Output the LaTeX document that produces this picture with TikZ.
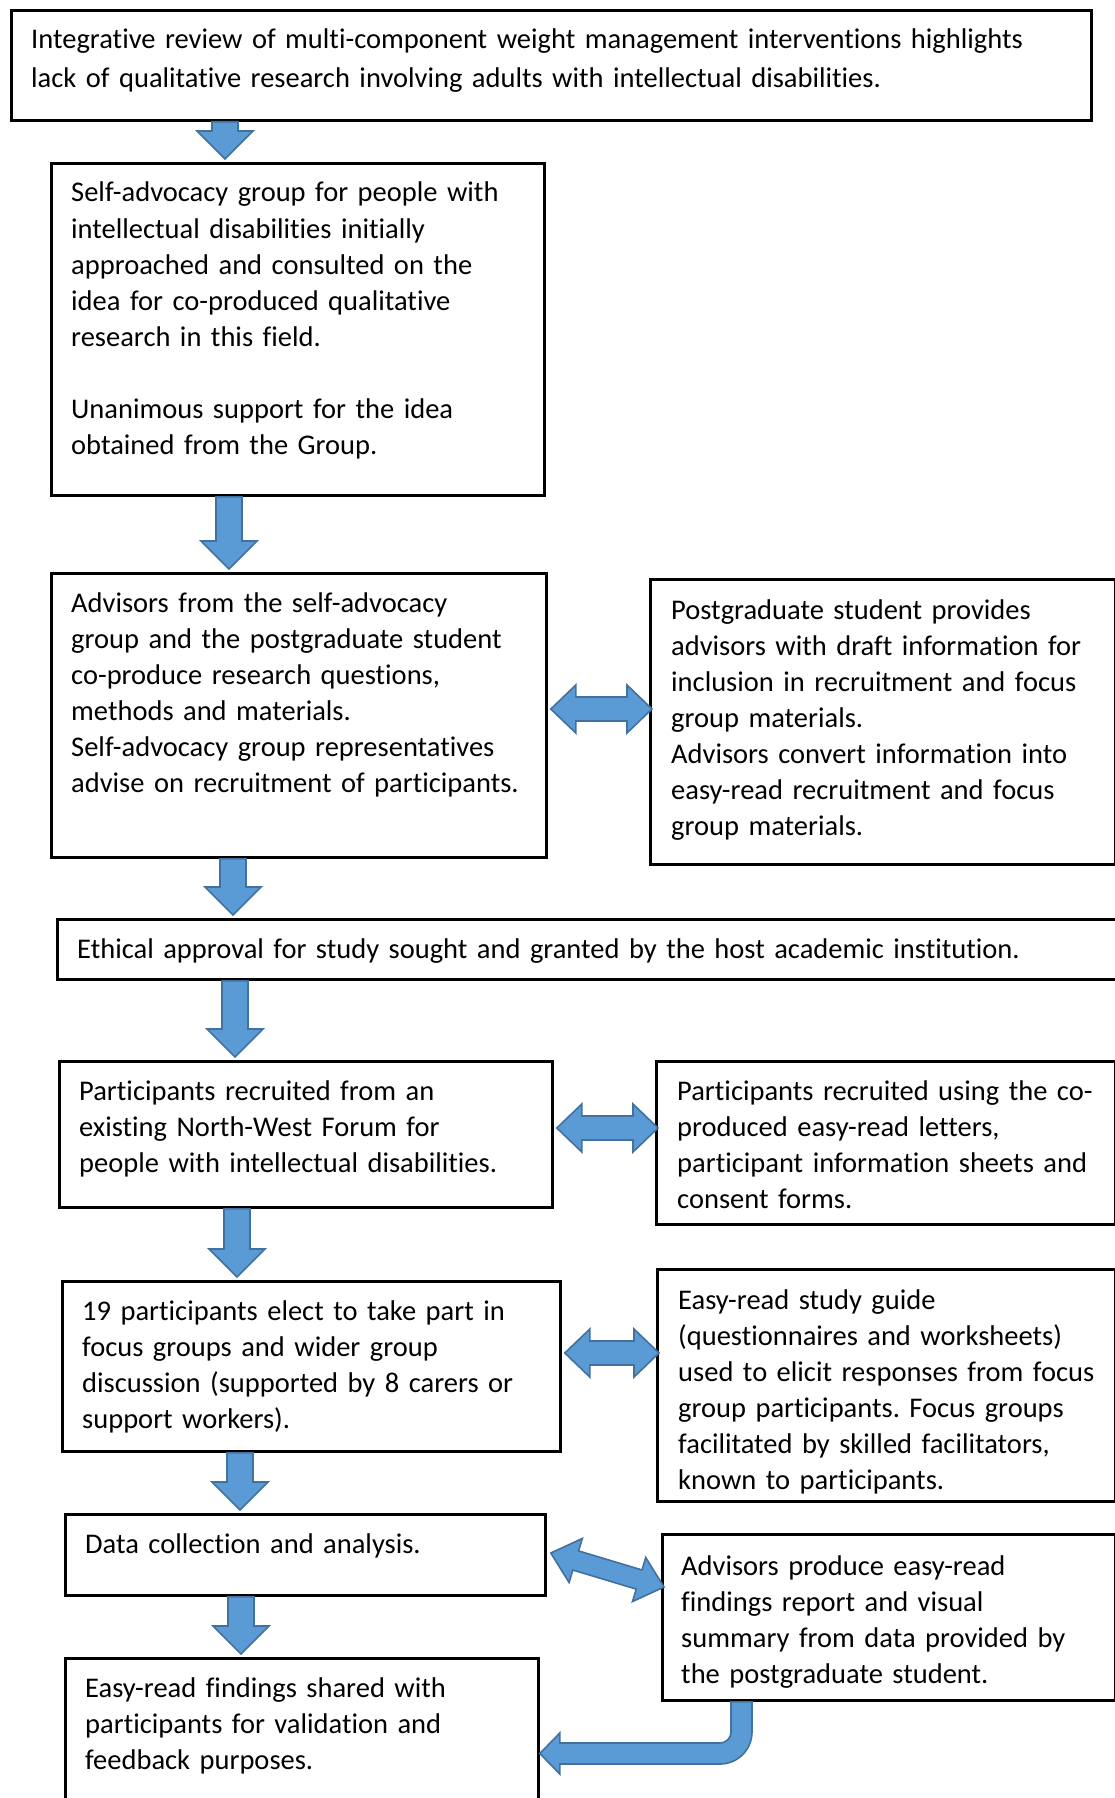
\documentclass[tikz,border=0pt]{standalone}
\usepackage{fontspec}
\setmainfont{Carlito}[Ligatures=NoCommon]
\usetikzlibrary{calc}
\definecolor{arrfill}{HTML}{5B9BD5}
\definecolor{arredge}{HTML}{41719C}
\frenchspacing

\tikzset{
  box/.style={draw=black, line width=2.8pt, inner sep=0pt, anchor=north west, fill=white},
  txt/.style={anchor=base west, inner sep=0pt, align=left, text width=1060pt,
              font=\fontsize{28.5}{36}\selectfont},
  blk/.style={fill=arrfill, draw=arredge, line width=1.6pt, line join=miter},
}

% block arrow pointing down, centred at x = #1, from node #2 to node #3
\newcommand\flowdown[3]{%
  \draw[blk] let \p1=(#2.south), \p2=(#3.north) in
    ({#1pt-13pt},\y1) -- ({#1pt+13pt},\y1) -- ({#1pt+13pt},\y2+31pt)
    -- ({#1pt+28pt},\y2+31pt) -- (#1pt,\y2+3pt) -- ({#1pt-28pt},\y2+31pt)
    -- ({#1pt-13pt},\y2+31pt) -- cycle;}

% horizontal two-headed block arrow at height #1 between nodes #2 and #3
\newcommand\flowboth[3]{%
  \draw[blk] let \p1=(#2.east), \p2=(#3.west) in
    (\x1+3pt,#1pt) -- (\x1+28pt,{#1pt+24pt}) -- (\x1+28pt,{#1pt+12pt})
    -- (\x2-22pt,{#1pt+12pt}) -- (\x2-22pt,{#1pt+24pt}) -- (\x2+3pt,#1pt)
    -- (\x2-22pt,{#1pt-24pt}) -- (\x2-22pt,{#1pt-12pt})
    -- (\x1+28pt,{#1pt-12pt}) -- (\x1+28pt,{#1pt-24pt}) -- cycle;}

\begin{document}
\begin{tikzpicture}[x=1pt, y=1pt]
\useasboundingbox (0,0) rectangle (1115,-1798);
\clip (0,0) rectangle (1115,-1798);

% boxes of the flow
\node[box, minimum width=1080pt, minimum height=110pt] (b1) at (10,-9) {};
\node[box, minimum width=493pt, minimum height=332pt] (b2) at (50,-162) {};
\node[box, minimum width=495pt, minimum height=284pt] (b3) at (50,-572) {};
\node[box, minimum width=465pt, minimum height=285pt] (r3) at (649,-578) {};
\node[box, minimum width=1074pt, minimum height=60pt] (b4) at (56,-918) {};
\node[box, minimum width=493pt, minimum height=146pt] (b5) at (58,-1060) {};
\node[box, minimum width=459pt, minimum height=163pt] (r5) at (655,-1060) {};
\node[box, minimum width=498pt, minimum height=170pt] (b6) at (61,-1280) {};
\node[box, minimum width=458pt, minimum height=232pt] (r6) at (656,-1268) {};
\node[box, minimum width=480pt, minimum height=81pt] (b7) at (64,-1513) {};
\node[box, minimum width=453pt, minimum height=166pt] (r7) at (661,-1533) {};
\node[box, minimum width=473pt, minimum height=153pt] (b8) at (64,-1657) {};

% texts
\node[txt, font=\fontsize{28.5}{39}\selectfont] (t1) at ($(b1.north west)+(21,-40)$)
  {Integrative review of multi-component weight management interventions highlights\\
   lack of qualitative research involving adults with intellectual disabilities.};
\node[txt] (t2) at ($(b2.north west)+(21,-40)$)
  {Self-advocacy group for people with\\ intellectual disabilities initially\\
   approached and consulted on the\\ idea for co-produced qualitative\\
   research in this field.\\[36pt] Unanimous support for the idea\\ obtained from the Group.};
\node[txt] (t3) at ($(b3.north west)+(21,-40)$)
  {Advisors from the self-advocacy\\ group and the postgraduate student\\
   co-produce research questions,\\ methods and materials.\\
   Self-advocacy group representatives\\ advise on recruitment of participants.};
\node[txt] (u3) at ($(r3.north west)+(22,-41)$)
  {Postgraduate student provides\\ advisors with draft information for\\
   inclusion in recruitment and focus\\ group materials.\\
   Advisors convert information into\\ easy-read recruitment and focus\\ group materials.};
\node[txt] (t4) at ($(b4.north west)+(21,-40)$)
  {Ethical approval for study sought and granted by the host academic institution.};
\node[txt] (t5) at ($(b5.north west)+(21,-40)$)
  {Participants recruited from an\\ existing North-West Forum for\\
   people with intellectual disabilities.};
\node[txt] (u5) at ($(r5.north west)+(22,-40)$)
  {Participants recruited using the co-\\ produced easy-read letters,\\
   participant information sheets and\\ consent forms.};
\node[txt] (t6) at ($(b6.north west)+(21,-40)$)
  {19 participants elect to take part in\\ focus groups and wider group\\
   discussion (supported by 8 carers or\\ support workers).};
\node[txt] (u6) at ($(r6.north west)+(22,-41)$)
  {Easy-read study guide\\ (questionnaires and worksheets)\\
   used to elicit responses from focus\\ group participants. Focus groups\\
   facilitated by skilled facilitators,\\ known to participants.};
\node[txt] (t7) at ($(b7.north west)+(21,-40)$)
  {Data collection and analysis.};
\node[txt] (u7) at ($(r7.north west)+(20,-42)$)
  {Advisors produce easy-read\\ findings report and visual\\
   summary from data provided by\\ the postgraduate student.};
\node[txt] (t8) at ($(b8.north west)+(21,-40)$)
  {Easy-read findings shared with\\ participants for validation and\\ feedback purposes.};

% downward arrows
\flowdown{225}{b1}{b2}
\flowdown{229}{b2}{b3}
\flowdown{233}{b3}{b4}
\flowdown{235}{b4}{b5}
\flowdown{237}{b5}{b6}
\flowdown{240}{b6}{b7}
\flowdown{241}{b7}{b8}

% two-headed arrows to the side boxes
\flowboth{-709}{b3}{r3}
\flowboth{-1128}{b5}{r5}
\flowboth{-1353}{b6}{r6}

% slanted two-headed arrow
\path let \p1=(b7.east), \p2=(r7.west) in
  coordinate (dA) at (\x1+4pt,-1553pt)
  coordinate (dB) at (\x2+3pt,-1587pt);
\coordinate (hA) at ($(dA)!26pt!(dB)$);
\coordinate (hB) at ($(dB)!26pt!(dA)$);
\draw[blk] (dA) -- ($(hA)!23pt!90:(dB)$) -- ($(hA)!10pt!90:(dB)$)
  -- ($(hB)!10pt!-90:(dA)$) -- ($(hB)!23pt!-90:(dA)$) -- (dB)
  -- ($(hB)!23pt!90:(dA)$) -- ($(hB)!10pt!90:(dA)$)
  -- ($(hA)!10pt!-90:(dB)$) -- ($(hA)!23pt!-90:(dB)$) -- cycle;

% bent arrow back to the last box
\draw[blk] let \p1=(r7.south), \p2=(b8.east) in
  (731pt,\y1) -- (752pt,\y1) -- (752pt,-1732pt)
  arc[start angle=0, end angle=-90, radius=32pt]
  -- (\x2+20pt,-1764pt) -- (\x2+20pt,-1774pt) -- (\x2,-1753.5pt)
  -- (\x2+20pt,-1733pt) -- (\x2+20pt,-1743pt) -- (720pt,-1743pt)
  arc[start angle=-90, end angle=0, radius=11pt] -- cycle;
\end{tikzpicture}
\end{document}
